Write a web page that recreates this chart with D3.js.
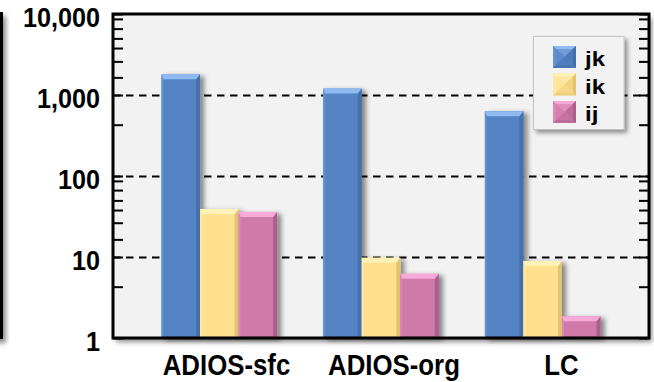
<!DOCTYPE html>
<html>
<head>
<meta charset="utf-8">
<script src="https://cdn.jsdelivr.net/npm/d3@7"></script>
<style>
  html, body { margin: 0; padding: 0; background: #ffffff; }
  svg { display: block; }
</style>
</head>
<body>
<svg id="chart" width="654" height="382"></svg>
<script>
// Categories and series (log-scale values)
const categories = ["ADIOS-sfc", "ADIOS-org", "LC"];
const seriesNames = ["jk", "ik", "ij"];
const jkValues = [1800, 1200, 630];
const ikValues = [39, 9.8, 8.9];
const ijValues = [36, 6.2, 1.85];

// Axis ticks
const majorTicks = [1, 10, 100, 1000, 10000];
const gridTicks = [10, 100, 1000];
const minorTicks = [4.3, 16.5, 26.5, 38, 50, 67, 87, 430, 1650, 2600, 3800, 5000, 6600, 8700];

const seriesValues = [jkValues, ikValues, ijValues];

const palette = {
  jk: { face: "#5484c5", top: "#8fbaf2", right: "#456fa9", left: "#6392d1", bottom: "#4a77b3" },
  ik: { face: "#ffe08e", top: "#fff2b8", right: "#e2c372", left: "#ffe8a6", bottom: "#ecd07f" },
  ij: { face: "#d07aaa", top: "#f7a9d9", right: "#ad5e8b", left: "#da88b6", bottom: "#bd6b99" }
};

const svg = d3.select("#chart");
const plot = { left: 113, right: 649, top: 14, bottom: 338 };

const defs = svg.append("defs");
function shadow(id, dx, dy, sd, op) {
  const f = defs.append("filter").attr("id", id)
    .attr("x", "-30%").attr("y", "-30%").attr("width", "160%").attr("height", "160%");
  f.append("feDropShadow").attr("dx", dx).attr("dy", dy)
    .attr("stdDeviation", sd).attr("flood-color", "#000").attr("flood-opacity", op);
}
shadow("frameShadow", 3, 4, 2.5, 0.45);
shadow("barShadow", 4, 2, 2.5, 0.45);
shadow("legendShadow", 3, 3, 2, 0.4);

// Scales
const y = d3.scaleLog().domain([1, 10000]).range([plot.bottom, plot.top]);
const x0 = d3.scaleBand().domain(categories).range([plot.left, plot.right])
  .paddingInner(0.285).paddingOuter(0.30);
const x1 = d3.scaleBand().domain(seriesNames).range([0, x0.bandwidth()]);
const xLabel = d3.scalePoint().domain(categories).range([226.5, 561.5]);

// Edge of the neighbouring panel on the left
svg.append("rect").attr("x", -20).attr("y", 12).attr("width", 23).attr("height", 327)
  .attr("fill", "#000").attr("filter", "url(#frameShadow)");

// Plot background
svg.append("rect")
  .attr("x", plot.left).attr("y", plot.top)
  .attr("width", plot.right - plot.left).attr("height", plot.bottom - plot.top)
  .attr("fill", "#f2f2f2").attr("filter", "url(#frameShadow)");

// Dashed gridlines
const grid = svg.append("g").attr("transform", `translate(${plot.left},0)`)
  .call(d3.axisLeft(y).tickValues(gridTicks).tickSize(-(plot.right - plot.left)).tickFormat(""));
grid.select(".domain").remove();
grid.selectAll("line").attr("stroke", "#000").attr("stroke-width", 2).attr("stroke-dasharray", "7.5,5.5");

// Bars with bevelled faces
const groups = svg.append("g").selectAll("g")
  .data(categories).join("g")
  .attr("transform", c => `translate(${x0(c)},0)`);

groups.each(function (c, ci) {
  const g = d3.select(this);
  seriesNames.forEach((s, si) => {
    const v = seriesValues[si][ci];
    const bx = x1(s), bw = x1.bandwidth();
    const by = y(v), bh = plot.bottom - y(v);
    const col = palette[s];
    const b = Math.min(5, bh / 2);
    const bar = g.append("g").attr("filter", "url(#barShadow)");
    bar.append("rect").attr("x", bx).attr("y", by).attr("width", bw).attr("height", bh).attr("fill", col.face);
    bar.append("polygon").attr("fill", col.left)
      .attr("points", [[bx, by], [bx + 2, by + b], [bx + 2, by + bh - 2], [bx, by + bh]].join(" "));
    bar.append("polygon").attr("fill", col.bottom)
      .attr("points", [[bx, by + bh], [bx + 2, by + bh - 2], [bx + bw - 4, by + bh - 2], [bx + bw, by + bh]].join(" "));
    bar.append("polygon").attr("fill", col.right)
      .attr("points", [[bx + bw, by], [bx + bw, by + bh], [bx + bw - 4, by + bh - 2], [bx + bw - 4, by + b]].join(" "));
    bar.append("polygon").attr("fill", col.top)
      .attr("points", [[bx, by], [bx + bw, by], [bx + bw - 4, by + b], [bx + 2, by + b]].join(" "));
  });
});

// Inward ticks on left and right axes
function ticks(axisGen, xPos) {
  const t = svg.append("g").attr("transform", `translate(${xPos},0)`)
    .call(axisGen.tickValues(majorTicks.concat(minorTicks)).tickFormat(""));
  t.select(".domain").remove();
  t.selectAll("line").attr("stroke", "#000").attr("stroke-width", 2);
}
ticks(d3.axisLeft(y).tickSize(-10), plot.left);
ticks(d3.axisRight(y).tickSize(-10), plot.right);

// Frame
svg.append("rect")
  .attr("x", plot.left).attr("y", plot.top)
  .attr("width", plot.right - plot.left).attr("height", plot.bottom - plot.top)
  .attr("fill", "none").attr("stroke", "#000").attr("stroke-width", 3);

// Y tick labels
const fmt = d3.format(",");
svg.append("g").selectAll("text").data(majorTicks).join("text")
  .attr("transform", d => `translate(100,${y(d) + 13}) scale(0.9,1)`)
  .attr("text-anchor", "end")
  .attr("font-family", "Liberation Sans, Arial, sans-serif")
  .attr("font-weight", "bold").attr("font-size", 28).attr("fill", "#000")
  .text(d => fmt(d));

// Category labels
svg.append("g").selectAll("text").data(categories).join("text")
  .attr("transform", c => `translate(${xLabel(c)},375) scale(0.86,1)`)
  .attr("text-anchor", "middle")
  .attr("font-family", "Liberation Sans, Arial, sans-serif")
  .attr("font-weight", "bold").attr("font-size", 30).attr("fill", "#000")
  .text(c => c);

// Legend
const legend = svg.append("g");
legend.append("rect").attr("x", 533.5).attr("y", 36.5).attr("width", 90.5).attr("height", 93)
  .attr("fill", "#f2f2f2").attr("stroke", "#c4c4c4").attr("stroke-width", 1)
  .attr("filter", "url(#legendShadow)");
seriesNames.forEach((s, i) => {
  const sx = 553, sy = 46 + i * 27.5, sw = 23, sh = 22;
  const cx = sx + sw / 2, cy = sy + sh / 2;
  const col = palette[s];
  const sw_ = legend.append("g");
  sw_.append("rect").attr("x", sx).attr("y", sy).attr("width", sw).attr("height", sh).attr("fill", col.face);
  sw_.append("polygon").attr("fill", col.top).attr("points", [[sx, sy], [sx + sw, sy], [cx, cy]].join(" "));
  sw_.append("polygon").attr("fill", col.left).attr("points", [[sx, sy], [cx, cy], [sx, sy + sh]].join(" "));
  sw_.append("polygon").attr("fill", col.right).attr("points", [[sx + sw, sy], [sx + sw, sy + sh], [cx, cy]].join(" "));
  sw_.append("polygon").attr("fill", col.bottom).attr("points", [[sx, sy + sh], [sx + sw, sy + sh], [cx, cy]].join(" "));
  sw_.append("rect").attr("x", sx + 3).attr("y", sy + 3).attr("width", sw - 6).attr("height", sh - 6)
    .attr("fill", col.face).attr("opacity", 0.55);
  legend.append("text")
    .attr("transform", `translate(585,${sy + 20}) scale(1.2,1)`)
    .attr("font-family", "Liberation Sans, Arial, sans-serif")
    .attr("font-weight", "bold").attr("font-size", 20).attr("fill", "#000")
    .text(s);
});
</script>
</body>
</html>
